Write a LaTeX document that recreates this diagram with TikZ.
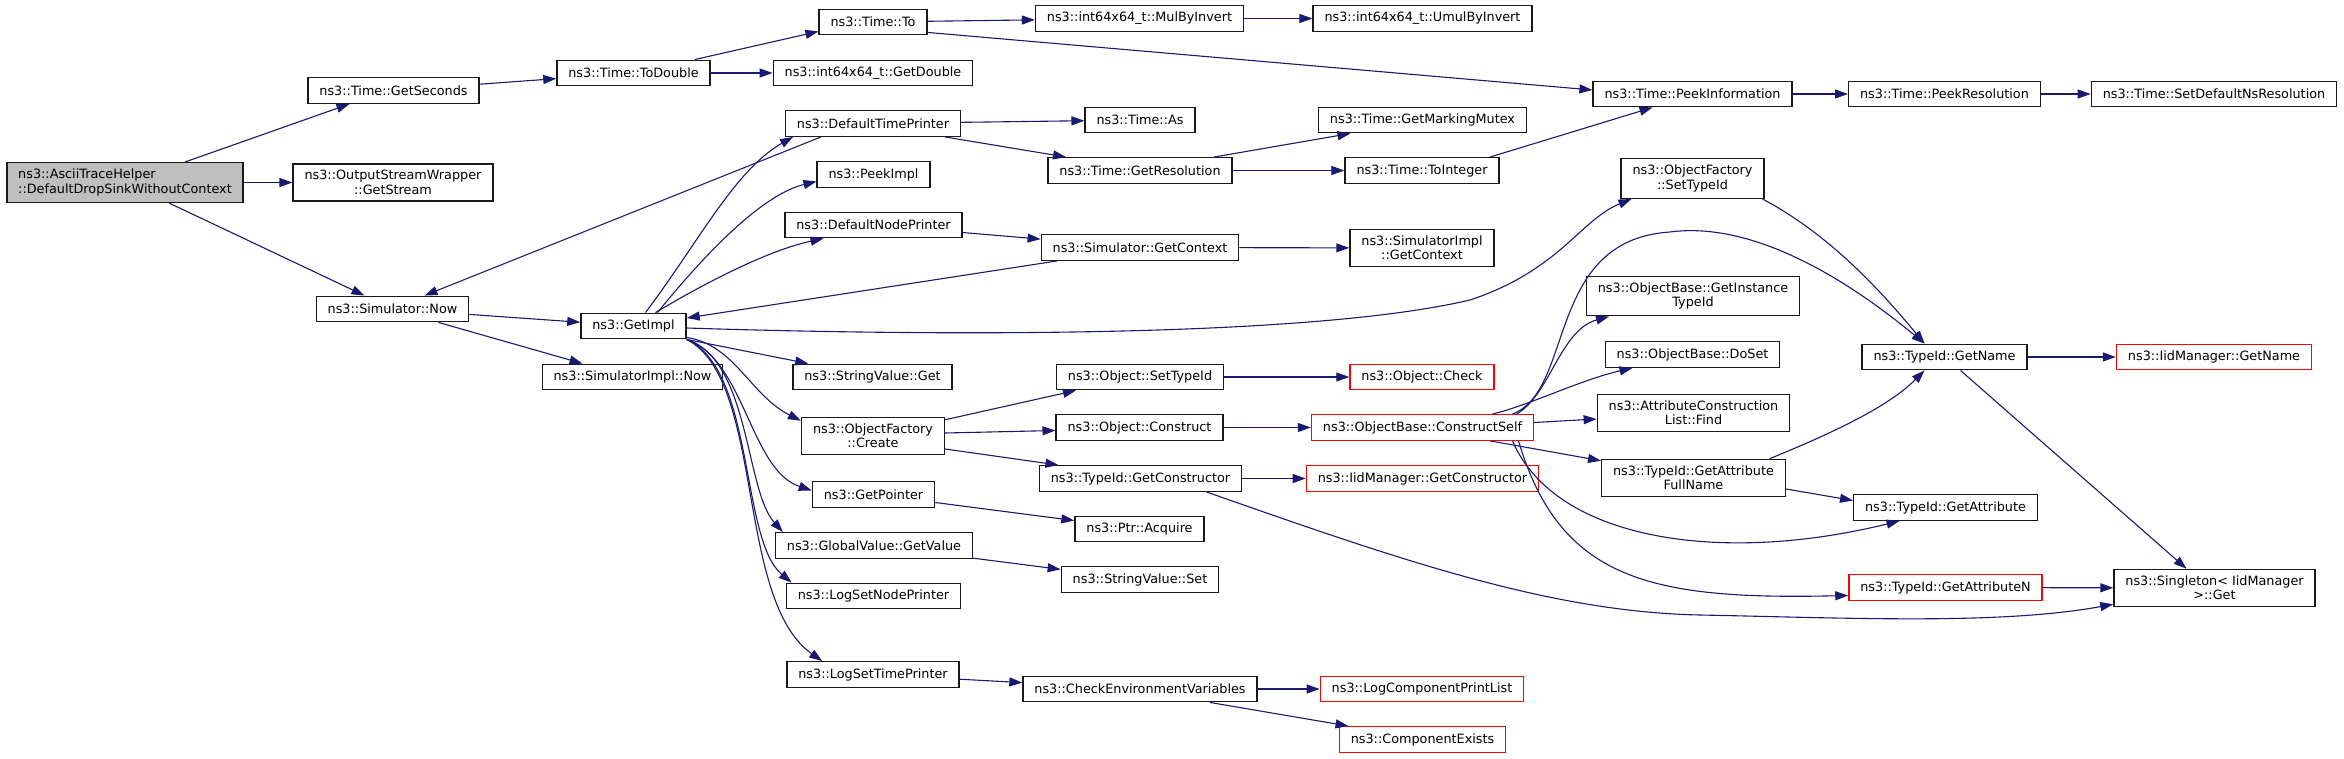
\documentclass[tikz,border=0pt]{standalone}
\usepackage{fontspec}
\setmainfont{DejaVu Sans}
\usetikzlibrary{arrows.meta}
\definecolor{callblue}{HTML}{191970}

\begin{document}
\begin{tikzpicture}[x=0.5pt,y=-0.5pt,
        fn/.style={draw=black!90,line width=0.7pt,fill=white,inner xsep=5.7pt,inner ysep=3.2pt,
            minimum height=12.75pt,align=center,font=\fontsize{6.4pt}{7.2pt}\selectfont},
        root/.style={fn,fill=black!25,align=left},
        ext/.style={fn,draw=red},
        call/.style={-{Triangle[length=6.5pt,width=4.5pt]},draw=callblue,line width=0.55pt}]
    \useasboundingbox (0,0) rectangle (2344,759);
    % column 0 and 1
    \node[root] (root) at (125,182.5) {ns3::AsciiTraceHelper\\::DefaultDropSinkWithoutContext};
    \node[fn] (secs) at (393.5,90.5) {ns3::Time::GetSeconds};
    \node[fn] (stream) at (393,182.5) {ns3::OutputStreamWrapper\\::GetStream};
    \node[fn] (snow) at (392.5,309) {ns3::Simulator::Now};
    % column 2
    \node[fn] (todouble) at (633.5,73) {ns3::Time::ToDouble};
    \node[fn] (getimpl) at (633.5,326) {ns3::GetImpl};
    \node[fn] (siminow) at (632.5,377) {ns3::SimulatorImpl::Now};
    % column 3
    \node[fn] (timeto) at (873,22) {ns3::Time::To};
    \node[fn] (getdouble) at (873,73) {ns3::int64x64\_t::GetDouble};
    \node[fn] (dtp) at (873,123.5) {ns3::DefaultTimePrinter};
    \node[fn] (peekimpl) at (873.5,174.5) {ns3::PeekImpl};
    \node[fn] (dnp) at (873.5,225) {ns3::DefaultNodePrinter};
    \node[fn] (svget) at (872.5,377) {ns3::StringValue::Get};
    \node[fn] (ofcreate) at (873,436) {ns3::ObjectFactory\\::Create};
    \node[fn] (getptr) at (873.5,494.5) {ns3::GetPointer};
    \node[fn] (gvget) at (874,545.5) {ns3::GlobalValue::GetValue};
    \node[fn] (logsnp) at (873.5,596) {ns3::LogSetNodePrinter};
    \node[fn] (logstp) at (873,674.5) {ns3::LogSetTimePrinter};
    % column 4
    \node[fn] (mulinv) at (1139.5,18.5) {ns3::int64x64\_t::MulByInvert};
    \node[fn] (timeas) at (1140,120) {ns3::Time::As};
    \node[fn] (getres) at (1140,170.5) {ns3::Time::GetResolution};
    \node[fn] (getctx) at (1140,247.5) {ns3::Simulator::GetContext};
    \node[fn] (osettid) at (1140,377) {ns3::Object::SetTypeId};
    \node[fn] (construct) at (1139.5,427.5) {ns3::Object::Construct};
    \node[fn] (tgetctor) at (1140.5,478.5) {ns3::TypeId::GetConstructor};
    \node[fn] (acquire) at (1139.5,529) {ns3::Ptr::Acquire};
    \node[fn] (svset) at (1140,579.5) {ns3::StringValue::Set};
    \node[fn] (checkenv) at (1140,689) {ns3::CheckEnvironmentVariables};
    % column 5
    \node[fn] (umulinv) at (1422.5,18.5) {ns3::int64x64\_t::UmulByInvert};
    \node[fn] (mutex) at (1422.5,120) {ns3::Time::GetMarkingMutex};
    \node[fn] (toint) at (1422,170.5) {ns3::Time::ToInteger};
    \node[fn] (simictx) at (1422,248) {ns3::SimulatorImpl\\::GetContext};
    \node[ext] (check) at (1422,377) {ns3::Object::Check};
    \node[ext] (cself) at (1422.5,427.5) {ns3::ObjectBase::ConstructSelf};
    \node[ext] (iidctor) at (1422.5,478.5) {ns3::IidManager::GetConstructor};
    \node[ext] (lcpl) at (1422,689) {ns3::LogComponentPrintList};
    \node[ext] (cexists) at (1422.5,739.5) {ns3::ComponentExists};
    % column 6
    \node[fn] (peekinfo) at (1692.5,94) {ns3::Time::PeekInformation};
    \node[fn] (ofsettid) at (1692.5,178.5) {ns3::ObjectFactory\\::SetTypeId};
    \node[fn] (instid) at (1693,296) {ns3::ObjectBase::GetInstance\\TypeId};
    \node[fn] (doset) at (1692.5,354.5) {ns3::ObjectBase::DoSet};
    \node[fn] (find) at (1693.5,413) {ns3::AttributeConstruction\\List::Find};
    \node[fn] (attrfull) at (1693.5,478) {ns3::TypeId::GetAttribute\\FullName};
    % column 7 and 8
    \node[fn] (peekres) at (1944.5,94) {ns3::Time::PeekResolution};
    \node[fn] (tgetname) at (1944.5,357) {ns3::TypeId::GetName};
    \node[fn] (getattr) at (1945.5,507.5) {ns3::TypeId::GetAttribute};
    \node[ext] (getattrn) at (1945.5,587.5) {ns3::TypeId::GetAttributeN};
    \node[fn] (setdefns) at (2214,94) {ns3::Time::SetDefaultNsResolution};
    \node[ext] (iidname) at (2214,357) {ns3::IidManager::GetName};
    \node[fn] (singleton) at (2214.5,588) {ns3::Singleton< IidManager\\>::Get};

    \draw[call] ([xshift=30pt]root.north) -- ([xshift=-22pt]secs.south);
    \draw[call] (root) -- (stream);
    \draw[call] ([xshift=22pt]root.south) -- ([xshift=-14pt]snow.north);
    \draw[call] (secs) -- (todouble);
    \draw[call] ([xshift=-8pt]todouble.north east) -- ([yshift=2pt]timeto.south west);
    \draw[call] (todouble) -- (getdouble);
    \draw[call] (timeto) -- (mulinv);
    \draw[call] ([yshift=1.5pt]timeto.south east) -- ([yshift=2pt]peekinfo.west);
    \draw[call] (mulinv) -- (umulinv);
    \draw[call] (snow) -- (getimpl);
    \draw[call] ([xshift=23pt]snow.south) -- ([xshift=-25pt]siminow.north);
    \draw[call] ([xshift=-26pt]dtp.south) -- ([xshift=16pt]snow.north);
    \draw[call] ([xshift=6pt]getimpl.north) .. controls (700,240) and (735,170) .. ([xshift=-40pt]dtp.south);
    \draw[call] ([xshift=12pt]getimpl.north) .. controls (700,260) and (760,195) .. ([yshift=-3.5pt]peekimpl.west);
    \draw[call] ([xshift=11pt]getimpl.north) .. controls (710,280) and (770,250) .. ([xshift=-25pt]dnp.south);
    \draw[call] ([xshift=-41.5pt]getctx.south) -- ([yshift=4pt]getimpl.east);
    \draw[call] ([yshift=-1pt]getimpl.east) .. controls (900,335) and (1300,340) .. (1470,300)
        .. controls (1560,270) and (1580,220) .. ([xshift=5.5pt]ofsettid.south west);
    \draw[call] (getimpl.south east) -- ([xshift=8pt]svget.north west);
    \draw[call] ([yshift=1pt]getimpl.south east) .. controls (735,345) and (750,395) .. ([yshift=-2pt]ofcreate.north west);
    \draw[call] (getimpl.south east) .. controls (745,360) and (750,470) .. ([yshift=2pt]getptr.west);
    \draw[call] (getimpl.south east) .. controls (750,360) and (745,490) .. ([xshift=4pt]gvget.north west);
    \draw[call] (getimpl.south east) .. controls (755,370) and (740,540) .. ([xshift=3pt]logsnp.north west);
    \draw[call] (getimpl.south east) .. controls (765,380) and (735,600) .. ([xshift=18pt]logstp.north west);
    \draw[call] (dtp) -- (timeas);
    \draw[call] ([xshift=36pt]dtp.south) -- ([xshift=-37pt]getres.north);
    \draw[call] ([xshift=37pt]getres.north) -- ([xshift=-36pt]mutex.south);
    \draw[call] (getres) -- (toint);
    \draw[call] ([xshift=34pt]toint.north) -- ([xshift=-20pt]peekinfo.south);
    \draw[call] (peekinfo) -- (peekres);
    \draw[call] (peekres) -- (setdefns);
    \draw[call] (dnp) -- (getctx);
    \draw[call] (getctx) -- (simictx);
    \draw[call] ([yshift=-1.5pt]ofcreate.north east) -- ([xshift=-32pt]osettid.south);
    \draw[call] ([yshift=1.5pt]ofcreate.east) -- ([yshift=-1.5pt]construct.west);
    \draw[call] ([yshift=-6.5pt]ofcreate.east) -- ([xshift=-41pt]tgetctor.north);
    \draw[call] (osettid) -- (check);
    \draw[call] (construct) -- (cself);
    \draw[call] (tgetctor) -- (iidctor);
    \draw[call] ([xshift=33pt]tgetctor.south) .. controls (1400,560) and (1550,612) .. (1700,615)
        .. controls (1850,618) and (2000,625) .. ([yshift=1.5pt]singleton.south west);
    \draw[call] (getptr) -- (acquire);
    \draw[call] (gvget) -- (svset);
    \draw[call] (logstp) -- (checkenv);
    \draw[call] (checkenv) -- (lcpl);
    \draw[call] ([xshift=35pt]checkenv.south) -- ([xshift=-37pt]cexists.north);
    \draw[call] ([xshift=45pt]cself.north) .. controls (1575,390) and (1545,240) .. (1670,232)
        .. controls (1760,220) and (1860,290) .. ([xshift=-10pt]tgetname.north);
    \draw[call] ([xshift=47pt]cself.north) .. controls (1550,395) and (1560,330) .. ([xshift=-42pt]instid.south);
    \draw[call] ([xshift=35pt]cself.north) .. controls (1530,405) and (1580,380) .. ([xshift=-30pt]doset.south);
    \draw[call] ([yshift=2.5pt]cself.east) -- ([yshift=-3pt]find.west);
    \draw[call] ([xshift=34pt]cself.south) -- ([yshift=-1pt]attrfull.north west);
    \draw[call] ([xshift=45pt]cself.south) .. controls (1555,540) and (1720,565) .. ([xshift=-23pt]getattr.south);
    \draw[call] ([xshift=48pt]cself.south) .. controls (1560,580) and (1650,600) .. ([yshift=-4pt]getattrn.west);
    \draw[call] ([xshift=-1pt]ofsettid.south east) .. controls (1830,235) and (1880,290) .. ([xshift=-10pt]tgetname.north);
    \draw[call] ([xshift=38pt]attrfull.north) .. controls (1840,430) and (1890,405) .. ([xshift=-10pt]tgetname.south);
    \draw[call] ([yshift=-5.5pt]attrfull.east) -- ([yshift=3.5pt]getattr.west);
    \draw[call] (tgetname) -- (iidname);
    \draw[call] ([xshift=8pt]tgetname.south) -- ([xshift=-14pt]singleton.north);
    \draw[call] (getattrn) -- (singleton);
\end{tikzpicture}
\end{document}
